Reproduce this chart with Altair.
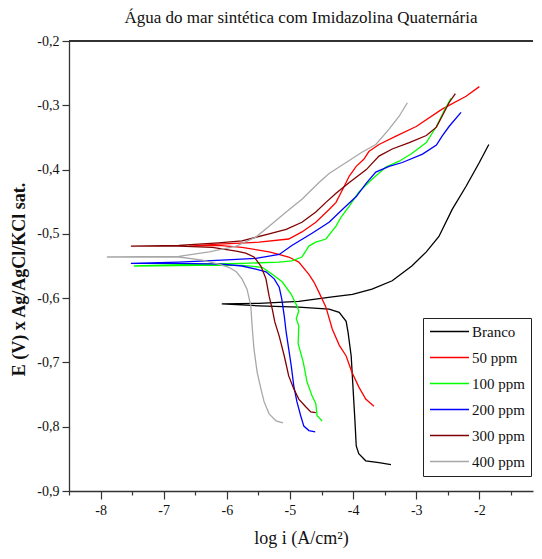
import altair as alt
import pandas as pd

series_names = ["Branco", "50 ppm", "100 ppm", "200 ppm", "300 ppm", "400 ppm"]
series_colors = ["#000000", "#ff0000", "#00ff00", "#0000ff", "#800000", "#a8a8a8"]

branco_x = [-3.40, -3.59, -3.80, -3.91, -3.95, -3.97, -4.00, -4.03, -4.08, -4.11, -4.22, -4.38, -4.86, -5.49, -6.08,
            -5.49, -4.86, -4.33, -4.01, -3.70, -3.38, -3.07, -2.84, -2.64, -2.43, -2.21, -2.00, -1.85]
branco_y = [-0.859, -0.856, -0.853, -0.842, -0.830, -0.792, -0.741, -0.690, -0.653, -0.636, -0.622, -0.617, -0.614, -0.612, -0.609,
            -0.608, -0.605, -0.598, -0.594, -0.586, -0.573, -0.550, -0.528, -0.504, -0.462, -0.426, -0.389, -0.361]

p50_x = [-3.67, -3.80, -3.91, -4.02, -4.11, -4.22, -4.33, -4.43, -4.54, -4.62, -4.70, -4.86, -5.02, -5.33, -5.76, -6.13, -6.60,
         -6.13, -5.49, -5.02, -4.81, -4.59, -4.38, -4.27, -4.14, -4.06, -3.95, -3.83, -3.75, -3.59, -3.32, -3.00, -2.59, -2.21, -2.00]
p50_y = [-0.768, -0.757, -0.738, -0.715, -0.690, -0.673, -0.648, -0.614, -0.591, -0.575, -0.563, -0.544, -0.536, -0.528, -0.521, -0.518, -0.519,
         -0.516, -0.513, -0.508, -0.497, -0.482, -0.462, -0.451, -0.426, -0.410, -0.395, -0.384, -0.372, -0.361, -0.348, -0.333, -0.306, -0.286, -0.271]

p100_x = [-4.49, -4.57, -4.59, -4.65, -4.73, -4.79, -4.87, -4.86, -4.90, -4.86, -4.89, -4.98, -5.12, -5.28, -5.44, -5.76, -6.44, -7.47,
          -6.44, -5.76, -5.17, -4.97, -4.81, -4.75, -4.70, -4.59, -4.43, -4.27, -4.19, -4.06, -3.91, -3.70, -3.48, -3.27, -3.07, -2.84, -2.68, -2.56, -2.45]
p100_y = [-0.791, -0.783, -0.764, -0.752, -0.730, -0.699, -0.671, -0.643, -0.632, -0.620, -0.612, -0.594, -0.575, -0.563, -0.552, -0.549, -0.549, -0.550,
          -0.547, -0.546, -0.544, -0.542, -0.536, -0.527, -0.519, -0.513, -0.508, -0.488, -0.474, -0.457, -0.435, -0.415, -0.396, -0.387, -0.375, -0.358, -0.333, -0.309, -0.289]

p200_x = [-4.60, -4.70, -4.78, -4.83, -4.89, -4.94, -4.98, -5.02, -5.06, -5.09, -5.13, -5.17, -5.25, -5.38, -5.54, -5.76, -6.08, -6.76, -7.52,
          -6.76, -6.08, -5.54, -5.17, -4.97, -4.65, -4.38, -4.17, -3.95, -3.79, -3.64, -3.43, -3.22, -2.90, -2.68, -2.59, -2.48, -2.29]
p200_y = [-0.808, -0.806, -0.799, -0.783, -0.761, -0.736, -0.705, -0.679, -0.653, -0.628, -0.601, -0.583, -0.570, -0.559, -0.555, -0.550, -0.547, -0.546, -0.546,
          -0.544, -0.541, -0.538, -0.532, -0.518, -0.499, -0.482, -0.462, -0.442, -0.421, -0.404, -0.395, -0.389, -0.376, -0.362, -0.348, -0.333, -0.311]

p300_x = [-4.59, -4.67, -4.75, -4.86, -4.94, -5.02, -5.09, -5.17, -5.24, -5.28, -5.33, -5.38, -5.46, -5.57, -5.70, -5.85, -6.23, -6.76, -7.52,
          -6.76, -6.13, -5.76, -5.33, -5.06, -4.81, -4.59, -4.43, -4.27, -4.06, -3.79, -3.59, -3.38, -3.11, -2.84, -2.68, -2.59, -2.48, -2.38]
p300_y = [-0.778, -0.777, -0.769, -0.757, -0.741, -0.721, -0.690, -0.659, -0.637, -0.617, -0.597, -0.570, -0.550, -0.536, -0.530, -0.527, -0.521, -0.519, -0.519,
          -0.518, -0.514, -0.511, -0.500, -0.493, -0.482, -0.466, -0.451, -0.437, -0.420, -0.400, -0.379, -0.368, -0.358, -0.347, -0.334, -0.317, -0.296, -0.282]

p400_x = [-5.11, -5.22, -5.33, -5.41, -5.46, -5.52, -5.57, -5.60, -5.62, -5.68, -5.76, -5.85, -5.97, -6.13, -6.39, -6.76, -7.90,
          -6.76, -6.28, -5.85, -5.54, -5.33, -5.06, -4.81, -4.54, -4.38, -4.11, -3.86, -3.64, -3.43, -3.27, -3.14]
p400_y = [-0.794, -0.791, -0.780, -0.761, -0.741, -0.715, -0.679, -0.643, -0.612, -0.586, -0.570, -0.559, -0.552, -0.547, -0.541, -0.536, -0.536,
          -0.535, -0.528, -0.519, -0.505, -0.488, -0.466, -0.446, -0.420, -0.406, -0.389, -0.373, -0.361, -0.337, -0.317, -0.296]

x_ticks = [-8.5, -8.0, -7.5, -7.0, -6.5, -6.0, -5.5, -5.0, -4.5, -4.0, -3.5, -3.0, -2.5, -2.0, -1.5]
y_ticks = [-0.9, -0.85, -0.8, -0.75, -0.7, -0.65, -0.6, -0.55, -0.5, -0.45, -0.4, -0.35, -0.3, -0.25, -0.2]

all_x = [branco_x, p50_x, p100_x, p200_x, p300_x, p400_x]
all_y = [branco_y, p50_y, p100_y, p200_y, p300_y, p400_y]

rows = []
for name, xs, ys in zip(series_names, all_x, all_y):
    for i, (xv, yv) in enumerate(zip(xs, ys)):
        rows.append({"serie": name, "idx": i, "logi": xv, "E": yv})
df = pd.DataFrame(rows)

FONT = "Liberation Serif"

x_major = "abs(datum.value - round(datum.value)) < 0.001"
y_major = "abs(datum.value*10 - round(datum.value*10)) < 0.001"

lines = alt.Chart(df).mark_line(strokeWidth=1.3).encode(
    x=alt.X("logi:Q",
            scale=alt.Scale(domain=[-8.5, -1.15], nice=False, zero=False),
            axis=alt.Axis(values=x_ticks, title="log i (A/cm²)",
                          labelExpr=f"{x_major} ? '-' + format(abs(datum.value), 'd') : ''",
                          tickSize={"condition": {"test": x_major, "value": 8}, "value": 4},
                          labelPadding=4, labelOverlap=False, labelFlush=False,
                          titleFontWeight="normal", titleFontSize=18,
                          titlePadding=12, grid=False)),
    y=alt.Y("E:Q",
            scale=alt.Scale(domain=[-0.9, -0.2], nice=False, zero=False),
            axis=alt.Axis(values=y_ticks, title="E (V) x Ag/AgCl/KCl sat.",
                          labelExpr=f"{y_major} ? '-' + replace(format(abs(datum.value), '.1f'), '.', ',') : ''",
                          tickSize={"condition": {"test": y_major, "value": 7}, "value": 4},
                          labelPadding=3, labelOverlap=False, labelFlush=False,
                          titleFontWeight="bold", titleFontSize=18,
                          titlePadding=8, titleY=238, grid=False)),
    color=alt.Color("serie:N",
                    scale=alt.Scale(domain=series_names, range=series_colors),
                    legend=alt.Legend(title=None, orient="none", legendX=354, legendY=277,
                                      strokeColor="#222222", fillColor="white", padding=6,
                                      symbolType="M-1,0H5", symbolSize=169, symbolStrokeWidth=1.5,
                                      labelOffset=28, rowPadding=10,
                                      labelFont=FONT, labelFontSize=15, labelColor="#111111")),
    order=alt.Order("idx:Q"),
    detail="serie:N",
)

top_line = alt.Chart(df).mark_rule(color="#333333", strokeWidth=1.2).encode(y=alt.datum(-0.2))

chart = alt.layer(lines, top_line).properties(
    width=464, height=450,
    title=alt.TitleParams("Água do mar sintética com Imidazolina Quaternária",
                          font=FONT, fontSize=17, fontWeight="normal", color="#111111",
                          anchor="middle", offset=7),
    autosize=alt.AutoSizeParams(type="none"),
    padding={"left": 61, "top": 33, "right": 1, "bottom": 58},
).configure_view(stroke=None).configure_axis(
    labelFont=FONT, labelFontSize=14, labelColor="#111111",
    titleFont=FONT, titleColor="#111111",
    domainColor="#333333", domainWidth=1.3, tickColor="#333333", tickWidth=1.2,
).configure_legend(symbolFillColor="transparent")

chart.save("out.html", embed_options={"renderer": "svg", "actions": False})
